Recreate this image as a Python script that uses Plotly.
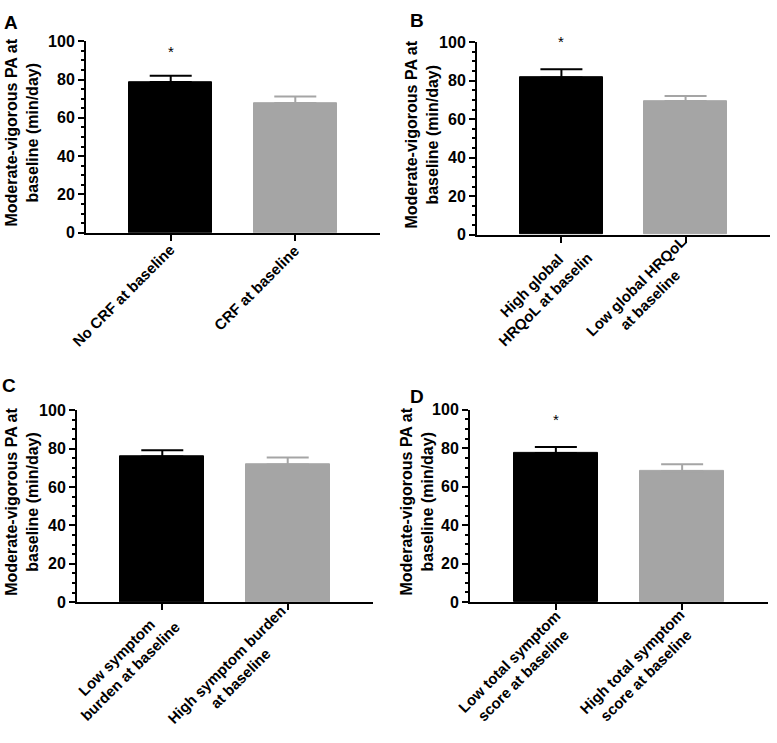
import plotly.graph_objects as go

# ---------------- data ----------------
cats_A = ["No CRF at baseline", "CRF at baseline"]
mean_A = [78.7, 67.8]
err_A = [3.3, 3.3]
star_A = 96.4

cats_B = ["High global<br>HRQoL at baselin", "Low global HRQoL<br>at baseline"]
mean_B = [81.7, 69.4]
err_B = [4.3, 2.7]
star_B = 101.7

cats_C = ["Low symptom<br>burden at baseline", "High symptom burden<br>at baseline"]
mean_C = [75.9, 71.7]
err_C = [3.2, 3.7]
star_C = None

cats_D = ["Low total symptom<br>score at baseline", "High total symptom<br>score at baseline"]
mean_D = [77.6, 68.1]
err_D = [3.1, 3.6]
star_D = 96.7

panel_letters = ["A", "B", "C", "D"]
y_title = "Moderate-vigorous PA at<br>baseline (min/day)"
y_ticks = [0, 20, 40, 60, 80, 100]
Y_MAX = 100

W, H = 777, 743
FONT = "Arial, 'Liberation Sans', sans-serif"
BLACK = "#000000"
GRAY = "#a5a5a5"

# pixel layout: (x0, x1, ytop, ybottom)
boxes = [(86, 380, 34, 230), (477, 770, 35, 232), (77, 373, 411.7, 608), (470, 768, 411.3, 608)]
letter_pos = [(11, 15), (417, 13), (9, 386), (417, 398)]
ytitle_x = [22.5, 422, 22.5, 417.5]
# centre of each rotated x label: (pixel offset from tick, pixel y)
xlabel_pos = [[(-47.5, 294), (-38.5, 286)], [(-23, 291), (-43, 292)],
              [(-39, 671.5), (-54, 679)], [(-39.5, 676), (-43, 676)]]

panels = [(cats_A, mean_A, err_A, star_A), (cats_B, mean_B, err_B, star_B),
          (cats_C, mean_C, err_C, star_C), (cats_D, mean_D, err_D, star_D)]

fig = go.Figure()
annotations = []
for i, ((cats, means, errs, star), (x0, x1, yt, yb)) in enumerate(zip(panels, boxes)):
    n = "" if i == 0 else str(i + 1)
    xa, ya = "x" + n, "y" + n
    for j, col in enumerate([BLACK, GRAY]):
        fig.add_trace(go.Bar(
            x=[j], y=[means[j]], xaxis=xa, yaxis=ya, width=0.67,
            marker=dict(color=col, line=dict(color=col, width=1)),
            error_y=dict(type="data", array=[errs[j]], arrayminus=[0], symmetric=False,
                         color=col, thickness=2, width=21),
            showlegend=False, hoverinfo="skip"))
    if star is not None:
        annotations.append(dict(x=0, xref=xa, y=star / Y_MAX, yref=ya + " domain", text="*",
                                showarrow=False, xanchor="center", yanchor="middle", yshift=-3,
                                font=dict(family=FONT, size=15, color=BLACK)))
    fig.layout["xaxis" + n] = dict(
        domain=[x0 / W, x1 / W], anchor=ya, range=[-0.68, 1.68],
        tickmode="array", tickvals=[0, 1], ticktext=["", ""],
        showline=True, linecolor=BLACK, linewidth=2, ticks="outside", ticklen=6,
        tickwidth=2, tickcolor=BLACK, showgrid=False, zeroline=False)
    fig.layout["yaxis" + n] = dict(
        domain=[1 - yb / H, 1 - yt / H], anchor=xa, range=[0, Y_MAX],
        tickmode="array", tickvals=y_ticks, showline=True, linecolor=BLACK, linewidth=2,
        ticks="outside", ticklen=6, tickwidth=2, tickcolor=BLACK,
        minor=dict(dtick=5, ticks="outside", ticklen=3, tickwidth=1.5, tickcolor=BLACK),
        showgrid=False, zeroline=False,
        tickfont=dict(family=FONT, size=16, color=BLACK, weight="bold"))
    # rotated category labels
    for j, lab in enumerate(cats):
        dx, py = xlabel_pos[i][j]
        annotations.append(dict(x=j, xref=xa, xshift=dx, y=1 - py / H, yref="paper",
                                text=lab, textangle=-45, showarrow=False, align="center",
                                xanchor="center", yanchor="middle",
                                font=dict(family=FONT, size=15, color=BLACK, weight="bold")))
    # y title
    annotations.append(dict(x=ytitle_x[i] / W, y=1 - ((yt + yb) / 2 - 4) / H, xref="paper", yref="paper",
                            text=y_title, textangle=-90, showarrow=False,
                            xanchor="center", yanchor="middle",
                            font=dict(family=FONT, size=16, color=BLACK, weight="bold")))
    # panel letter
    lx, ly = letter_pos[i]
    annotations.append(dict(x=lx / W, y=1 - ly / H, xref="paper", yref="paper",
                            text=panel_letters[i], showarrow=False, xanchor="center", yanchor="middle",
                            font=dict(family=FONT, size=19, color=BLACK, weight="bold")))

fig.update_layout(width=W, height=H, margin=dict(l=0, r=0, t=0, b=0),
                  plot_bgcolor="white", paper_bgcolor="white", bargap=0,
                  annotations=annotations, showlegend=False)
fig.write_html("out.html", config={"displayModeBar": False},
               post_script="document.body.style.margin='0';")
